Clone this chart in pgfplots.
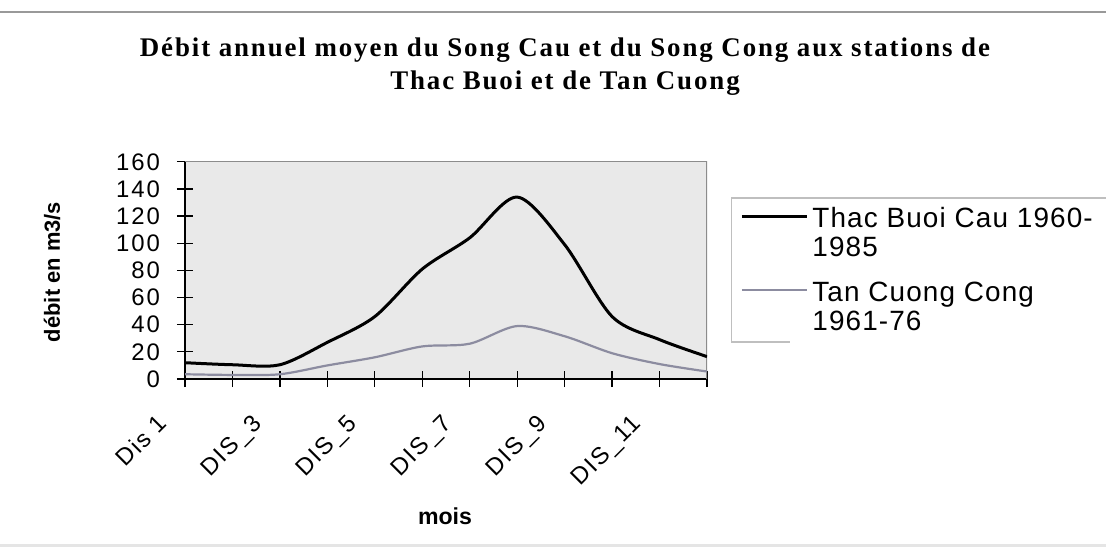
\documentclass[border=0pt]{standalone}
\usepackage{fontspec}
\setmainfont{Liberation Sans}
\newfontfamily\tickfont{Liberation Sans}[LetterSpace=8]
\newfontfamily\legfont{Liberation Sans}[LetterSpace=4]
\newfontfamily\titlefont{Liberation Serif}[LetterSpace=7]
\usepackage{pgfplots}
\pgfplotsset{compat=1.18}
\definecolor{plotbg}{HTML}{E9E9E9}
\definecolor{tcong}{RGB}{140,140,160}
\begin{document}
\begin{tikzpicture}
\path[use as bounding box, fill=white] (0,0) rectangle (553bp,275.5bp);
\draw[black!40, line width=1bp] (0,269.5bp) -- (553bp,269.5bp);
\draw[black!10, line width=1.5bp] (0,2.5bp) -- (553bp,2.5bp);
\node[font=\titlefont\bfseries\fontsize{13.5}{15}\selectfont, anchor=base, inner sep=0pt] at (282.5bp,247bp) {Débit annuel moyen du Song Cau et du Song Cong aux stations de};
\node[font=\titlefont\bfseries\fontsize{13.5}{15}\selectfont, anchor=base, inner sep=0pt] at (282.5bp,230.5bp) {Thac Buoi et de Tan Cuong};
\node[font=\bfseries\fontsize{11.6}{14}\selectfont, anchor=base, inner sep=0pt] at (222.5bp,13.5bp) {mois};
\node[font=\bfseries\fontsize{11}{13}\selectfont, rotate=90, inner sep=0pt] at (26bp,139.5bp) {débit en m3/s};
\draw[black!25, line width=0.7bp] (553bp,176.5bp) -- (365.85bp,176.5bp) -- (365.85bp,104.5bp) -- (395bp,104.5bp);
\begin{axis}[
  at={(92.5bp,86bp)}, anchor=south west, scale only axis,
  width=261bp, height=108.6bp,
  xmin=1, xmax=12, ymin=0, ymax=160,
  axis x line=bottom, axis y line=left,
  axis line style={-, black, line width=0.8bp},
  axis background/.style={fill=plotbg},
  xtick={1,...,12},
  xticklabels={Dis 1,,DIS\_3,,DIS\_5,,DIS\_7,,DIS\_9,,DIS\_11,},
  ytick={0,20,...,160},
  tick align=center, major tick length=8bp,
  tick style={black, line width=0.6bp},
  /pgf/number format/assume math mode=true,
  xticklabel style={font=\tickfont\fontsize{12}{14}\selectfont, rotate=45, anchor=north east, xshift=-15.9bp, yshift=4.6bp},
  yticklabel style={font=\tickfont\fontsize{12}{14}\selectfont, xshift=-5bp},
  legend style={at={(1.0632,0.793)}, anchor=north west, draw=none, fill=none,
    inner sep=0pt, column sep=2bp, row sep=8bp, cells={anchor=base west},
    nodes={inner sep=0pt, text depth=},
    font=\legfont\fontsize{14}{14.5}\selectfont},
  legend image code/.code={\draw[#1] (0bp,5.5bp) -- (32.5bp,5.5bp);},
]
\draw[black!45, line width=0.7bp] (rel axis cs:0,1) -- (rel axis cs:1,1) -- (rel axis cs:1,0);
\addplot[black, line width=1.5bp, smooth, tension=0.5] coordinates {
(1,12) (2,10.5) (3,10.5) (4,27) (5,46) (6,81) (7,104) (8,134) (9,99) (10,46) (11,29) (12,16.5)};
\addlegendentry{\begin{tabular}[t]{@{}l@{}}Thac Buoi Cau 1960-\\1985\end{tabular}}
\addplot[tcong, line width=1.1bp, smooth, tension=0.5] coordinates {
(1,3.5) (2,3) (3,3.5) (4,10) (5,16) (6,24) (7,26) (8,39) (9,31.5) (10,19) (11,11) (12,5.5)};
\addlegendentry{\begin{tabular}[t]{@{}l@{}}Tan Cuong Cong\\1961-76\end{tabular}}
\end{axis}
\end{tikzpicture}
\end{document}
